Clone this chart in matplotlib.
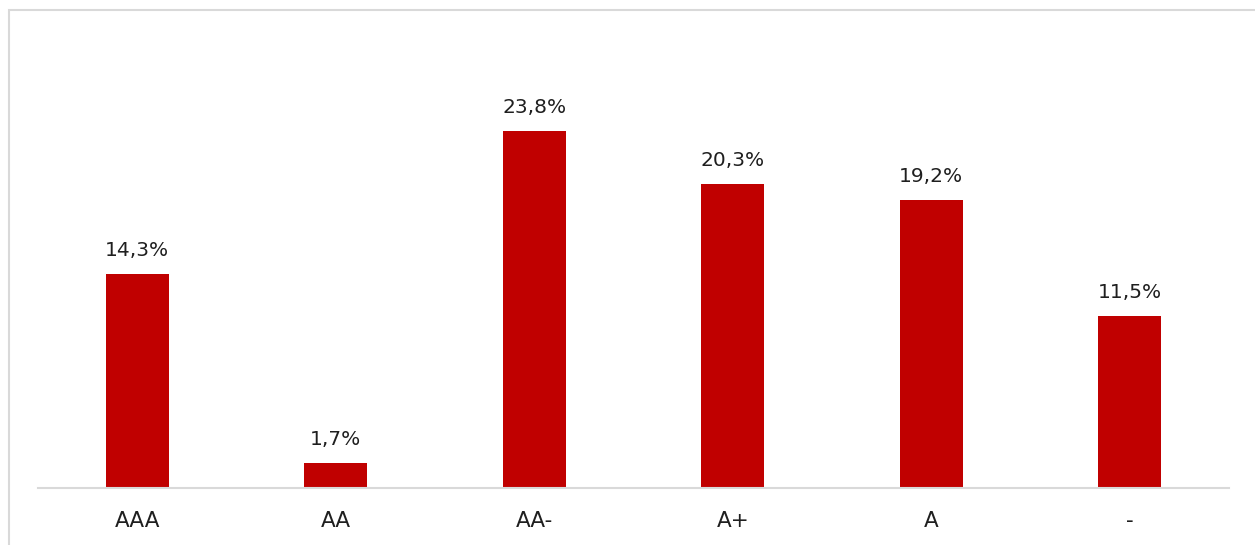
import matplotlib
matplotlib.use("Agg")
import matplotlib.pyplot as plt
from matplotlib.patches import Rectangle

# Rating categories and their shares (%)
categories = ["AAA", "AA", "AA-", "A+", "A", "-"]
shares = [14.3, 1.7, 23.8, 20.3, 19.2, 11.5]
value_labels = ["14,3%", "1,7%", "23,8%", "20,3%", "19,2%", "11,5%"]

BAR_COLOR = "#C00000"
TEXT_COLOR = "#1F1F1F"
LINE_COLOR = "#D9D9D9"

W, H = 1255, 545
fig = plt.figure(figsize=(W / 100, H / 100), dpi=100)
fig.patch.set_facecolor("white")

# Light frame around the chart area (runs off the right and bottom edges)
fig.patches.append(Rectangle((8.5 / W, -0.05), 1.2, 1 - 9.5 / H + 0.05,
                             transform=fig.transFigure, fill=False,
                             edgecolor=LINE_COLOR, linewidth=1.5))

left, right, base = 38, 1229, 488
ymax = 28.0
top = base - 15.0 * ymax
ax = fig.add_axes([left / W, 1 - base / H, (right - left) / W, (base - top) / H])

x = range(len(categories))
bars = ax.bar(x, shares, width=0.315, color=BAR_COLOR, zorder=2)

for rect, lab in zip(bars, value_labels):
    ax.annotate(lab, (rect.get_x() + rect.get_width() / 2, rect.get_height()),
                xytext=(0, 10), textcoords="offset points",
                ha="center", va="bottom", fontsize=14.5, color=TEXT_COLOR)

ax.set_xlim(-0.5, len(categories) - 0.5)
ax.set_ylim(0, ymax)
ax.set_xticks(list(x))
ax.set_xticklabels(categories, fontsize=15.5, color=TEXT_COLOR)
ax.tick_params(axis="x", length=0, pad=16.5)
ax.set_yticks([])

for side in ("top", "right", "left"):
    ax.spines[side].set_visible(False)
ax.spines["bottom"].set_color(LINE_COLOR)
ax.spines["bottom"].set_linewidth(1.5)
ax.spines["bottom"].set_zorder(3)
ax.patch.set_alpha(0)

fig.savefig("out.png", dpi=100, facecolor="white")
